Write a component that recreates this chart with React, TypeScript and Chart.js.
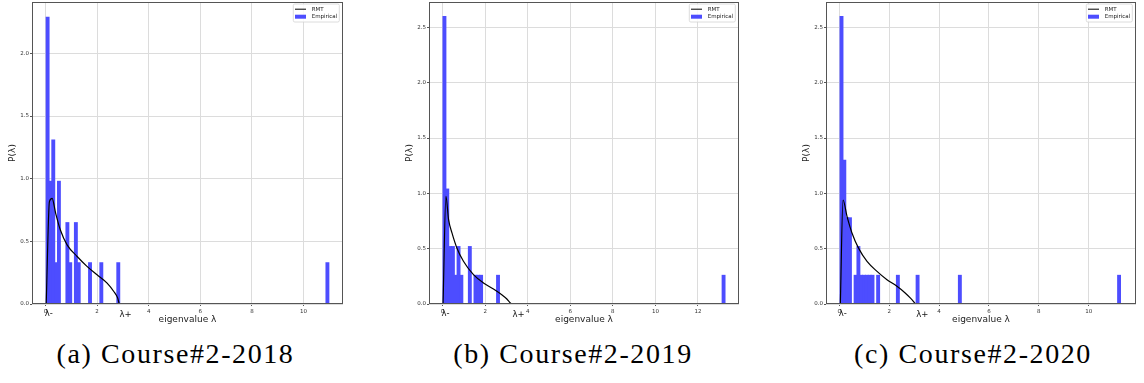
import React, { useEffect, useRef } from "react";
import { Chart, registerables } from "chart.js";

Chart.register(...registerables);

// ---------- Data ----------
// (a) Course#2-2018 : histogram bins (centre of bin, density) and RMT curve
const binCentersA = [0.085, 0.194, 0.304, 0.413, 0.523, 0.851, 0.961, 1.18, 1.29, 1.728, 2.166, 2.823, 10.926];
const densityA = [2.29, 0.98, 1.31, 0.33, 0.98, 0.65, 0.33, 0.65, 0.33, 0.33, 0.33, 0.33, 0.33];
const rmtLambdaA = [0.03, 0.155, 0.26, 0.39, 0.58, 0.84, 1.23, 1.61, 2.0, 2.39, 2.65, 2.8, 2.87, 10.98];
const rmtDensityA = [0, 0.817, 0.843, 0.73, 0.59, 0.472, 0.379, 0.3, 0.233, 0.167, 0.1, 0.048, 0, 0];

// (b) Course#2-2019
const binCentersB = [0.086, 0.219, 0.351, 0.484, 0.616, 0.749, 0.881, 1.279, 1.544, 1.676, 1.809, 2.604, 13.205];
const densityB = [2.6, 1.04, 0.52, 0.52, 0.26, 0.52, 0.26, 0.52, 0.26, 0.26, 0.26, 0.26, 0.26];
const rmtLambdaB = [0.02, 0.156, 0.28, 0.44, 0.67, 0.98, 1.45, 1.92, 2.39, 2.78, 3.02, 3.17, 3.28, 13.27];
const rmtDensityB = [0, 0.974, 0.763, 0.643, 0.507, 0.386, 0.265, 0.19, 0.136, 0.084, 0.045, 0.012, 0, 0];

// (c) Course#2-2020
const binCentersC = [0.0865, 0.1995, 0.3125, 0.4255, 0.6515, 0.7645, 0.8775, 0.9905, 1.1035, 1.2165, 1.3295, 1.5555, 2.3465, 3.1375, 4.8325, 11.2165];
const densityC = [2.6, 1.3, 0.78, 0.78, 0.26, 0.52, 0.26, 0.26, 0.26, 0.26, 0.26, 0.26, 0.26, 0.26, 0.26, 0.26];
const rmtLambdaC = [0.04, 0.147, 0.31, 0.51, 0.77, 1.11, 1.51, 1.91, 2.31, 2.64, 2.91, 3.08, 11.33];
const rmtDensityC = [0, 0.94, 0.79, 0.64, 0.505, 0.385, 0.295, 0.22, 0.16, 0.1, 0.04, 0, 0];

// Tick values
const xTicksA = [0, 2, 4, 6, 8, 10];
const xTicksB = [0, 2, 4, 6, 8, 10, 12];
const xTicksC = [0, 2, 4, 6, 8, 10];
const yTicksA = [0, 0.5, 1.0, 1.5, 2.0];
const yTicksBC = [0, 0.5, 1.0, 1.5, 2.0, 2.5];

// Edge markers
const lambdaMinusA = 0.03, lambdaPlusA = 2.87;
const lambdaMinusB = 0.02, lambdaPlusB = 3.28;
const lambdaMinusC = 0.04, lambdaPlusC = 3.08;

const legendLabels = ["RMT", "Empirical"];
const xAxisTitle = "eigenvalue λ";
const yAxisTitle = "P(λ)";
const captions = ["(a) Course#2-2018", "(b) Course#2-2019", "(c) Course#2-2020"];

// ---------- Layout ----------
const SANS = "'DejaVu Sans', sans-serif";
const BAR_COLOR = "rgb(77,77,255)";
const Y_AXIS_W = 32;
const X_AXIS_H = 26;
const CANVAS_H = 330;

type PanelCfg = {
  binX: number[]; binY: number[]; rmtX: number[]; rmtY: number[];
  xTicks: number[]; yTicks: number[];
  xMin: number; xMax: number; yMax: number;
  lMinus: number; lPlus: number;
  canvasLeft: number; plotWidth: number; captionCenter: number; caption: string;
};

const panels: PanelCfg[] = [
  { binX: binCentersA, binY: densityA, rmtX: rmtLambdaA, rmtY: rmtDensityA, xTicks: xTicksA, yTicks: yTicksA,
    xMin: -0.52, xMax: 11.53, yMax: 2.41, lMinus: lambdaMinusA, lPlus: lambdaPlusA,
    canvasLeft: 0, plotWidth: 311, captionCenter: 175.5, caption: captions[0] },
  { binX: binCentersB, binY: densityB, rmtX: rmtLambdaB, rmtY: rmtDensityB, xTicks: xTicksB, yTicks: yTicksBC,
    xMin: -0.64, xMax: 13.93, yMax: 2.73, lMinus: lambdaMinusB, lPlus: lambdaPlusB,
    canvasLeft: 397, plotWidth: 310, captionCenter: 573, caption: captions[1] },
  { binX: binCentersC, binY: densityC, rmtX: rmtLambdaC, rmtY: rmtDensityC, xTicks: xTicksC, yTicks: yTicksBC,
    xMin: -0.535, xMax: 11.895, yMax: 2.73, lMinus: lambdaMinusC, lPlus: lambdaPlusC,
    canvasLeft: 794, plotWidth: 310, captionCenter: 973, caption: captions[2] },
];

const framePlugin = {
  id: "frame",
  afterDraw(chart: any) {
    const { ctx, chartArea: a } = chart;
    ctx.save();
    ctx.strokeStyle = "#555";
    ctx.lineWidth = 1;
    ctx.strokeRect(a.left + 0.5, a.top + 0.5, a.right - a.left - 1, a.bottom - a.top - 1);
    ctx.restore();
  },
};

const legendPlugin = {
  id: "mplLegend",
  afterDraw(chart: any) {
    const { ctx, chartArea: a } = chart;
    const w = 46, h = 18;
    const x = a.right - 3.7 - w, y = a.top + 2;
    ctx.save();
    ctx.fillStyle = "rgba(255,255,255,0.85)";
    ctx.strokeStyle = "#d3d3d3";
    ctx.lineWidth = 0.8;
    ctx.beginPath();
    (ctx as any).roundRect(x, y, w, h, 1.5);
    ctx.fill();
    ctx.stroke();
    ctx.strokeStyle = "#000";
    ctx.lineWidth = 1;
    ctx.beginPath();
    ctx.moveTo(x + 1.7, y + 5.2);
    ctx.lineTo(x + 12.7, y + 5.2);
    ctx.stroke();
    ctx.fillStyle = BAR_COLOR;
    ctx.fillRect(x + 1.7, y + 10.7, 11, 4);
    ctx.fillStyle = "#222";
    ctx.font = `5.5px ${SANS}`;
    ctx.textBaseline = "middle";
    ctx.textAlign = "left";
    ctx.fillText(legendLabels[0], x + 18.4, y + 5.2);
    ctx.fillText(legendLabels[1], x + 18.4, y + 12.7);
    ctx.restore();
  },
};

const lambdaPlugin = {
  id: "lambdaMarks",
  afterDraw(chart: any) {
    const { ctx } = chart;
    const opts = chart.options.plugins.lambdaMarks;
    const xs = chart.scales.x;
    ctx.save();
    ctx.fillStyle = "#111";
    ctx.font = `8.5px ${SANS}`;
    ctx.textBaseline = "middle";
    ctx.textAlign = "left";
    ctx.fillText("λ-", xs.getPixelForValue(opts.minus) - 1.5, 314);
    ctx.fillText("λ+", xs.getPixelForValue(opts.plus), 314.5);
    ctx.restore();
  },
};

function Panel({ cfg }: { cfg: PanelCfg }) {
  const ref = useRef<HTMLCanvasElement>(null);
  const width = Y_AXIS_W + cfg.plotWidth + 4;
  useEffect(() => {
    const chart = new Chart(ref.current as HTMLCanvasElement, {
      type: "bar",
      data: {
        datasets: [
          {
            type: "line",
            label: legendLabels[0],
            data: cfg.rmtX.map((x, i) => ({ x, y: cfg.rmtY[i] })),
            borderColor: "#000",
            borderWidth: 1.2,
            pointRadius: 0,
            tension: 0,
            cubicInterpolationMode: "monotone",
            order: 0,
          } as any,
          {
            type: "bar",
            label: legendLabels[1],
            data: cfg.binX.map((x, i) => ({ x, y: cfg.binY[i] })),
            backgroundColor: BAR_COLOR,
            borderWidth: 0,
            inflateAmount: 0.4,
            barPercentage: 1.1,
            categoryPercentage: 1,
            order: 1,
          } as any,
        ],
      },
      options: {
        responsive: false,
        animation: false,
        events: [],
        layout: { padding: { left: 0, right: 4, top: 2, bottom: 0 } },
        plugins: {
          legend: { display: false },
          tooltip: { enabled: false },
          lambdaMarks: { minus: cfg.lMinus, plus: cfg.lPlus },
        } as any,
        scales: {
          x: {
            type: "linear",
            min: cfg.xMin,
            max: cfg.xMax,
            offset: false,
            grid: { offset: false, color: "#dcdcdc", lineWidth: 1, tickLength: 2, tickColor: "#555" },
            border: { display: false },
            ticks: {
              font: { size: 5.5, family: SANS },
              color: "#333",
              padding: 2,
              maxRotation: 0,
              autoSkip: false,
              callback: (v: any) => String(v),
            },
            title: {
              display: true,
              text: xAxisTitle,
              font: { size: 9, family: SANS },
              color: "#222",
              padding: { top: 0, bottom: 4.6 },
            },
            afterBuildTicks: (s: any) => {
              s.ticks = cfg.xTicks.map((v) => ({ value: v }));
            },
            afterFit: (s: any) => {
              s.height = X_AXIS_H;
              s.paddingLeft = 0; s.paddingRight = 0; s.paddingTop = 0; s.paddingBottom = 0;
            },
          } as any,
          y: {
            type: "linear",
            min: 0,
            max: cfg.yMax,
            grid: { color: "#dcdcdc", lineWidth: 1, tickLength: 2, tickColor: "#555" },
            border: { display: false },
            ticks: {
              font: { size: 5.5, family: SANS },
              color: "#333",
              padding: 1,
              callback: (v: any) => Number(v).toFixed(1),
            },
            title: {
              display: true,
              text: yAxisTitle,
              font: { size: 9, family: SANS },
              color: "#222",
              padding: { top: 7.6, bottom: 0 },
            },
            afterBuildTicks: (s: any) => {
              s.ticks = cfg.yTicks.map((v) => ({ value: v }));
            },
            afterFit: (s: any) => {
              s.width = Y_AXIS_W;
              s.paddingLeft = 0; s.paddingRight = 0; s.paddingTop = 0; s.paddingBottom = 0;
            },
          } as any,
        },
      },
      plugins: [framePlugin, legendPlugin, lambdaPlugin],
    });
    return () => chart.destroy();
  }, []);
  return (
    <canvas
      ref={ref}
      width={width}
      height={CANVAS_H}
      style={{ position: "absolute", left: cfg.canvasLeft, top: 0, width, height: CANVAS_H }}
    />
  );
}

export default function App() {
  return (
    <div style={{ position: "absolute", left: 0, top: 0, width: 1144, height: 383, background: "#fff", overflow: "hidden" }}>
      {panels.map((p, i) => (
        <Panel key={i} cfg={p} />
      ))}
      {panels.map((p, i) => (
        <div
          key={"c" + i}
          style={{
            position: "absolute",
            left: p.captionCenter - 190,
            width: 380,
            top: 340,
            textAlign: "center",
            fontFamily: "'Liberation Serif', serif",
            fontSize: 28,
            lineHeight: "28px",
            letterSpacing: "1.6px",
            color: "#000",
            whiteSpace: "nowrap",
          }}
        >
          {p.caption}
        </div>
      ))}
    </div>
  );
}
